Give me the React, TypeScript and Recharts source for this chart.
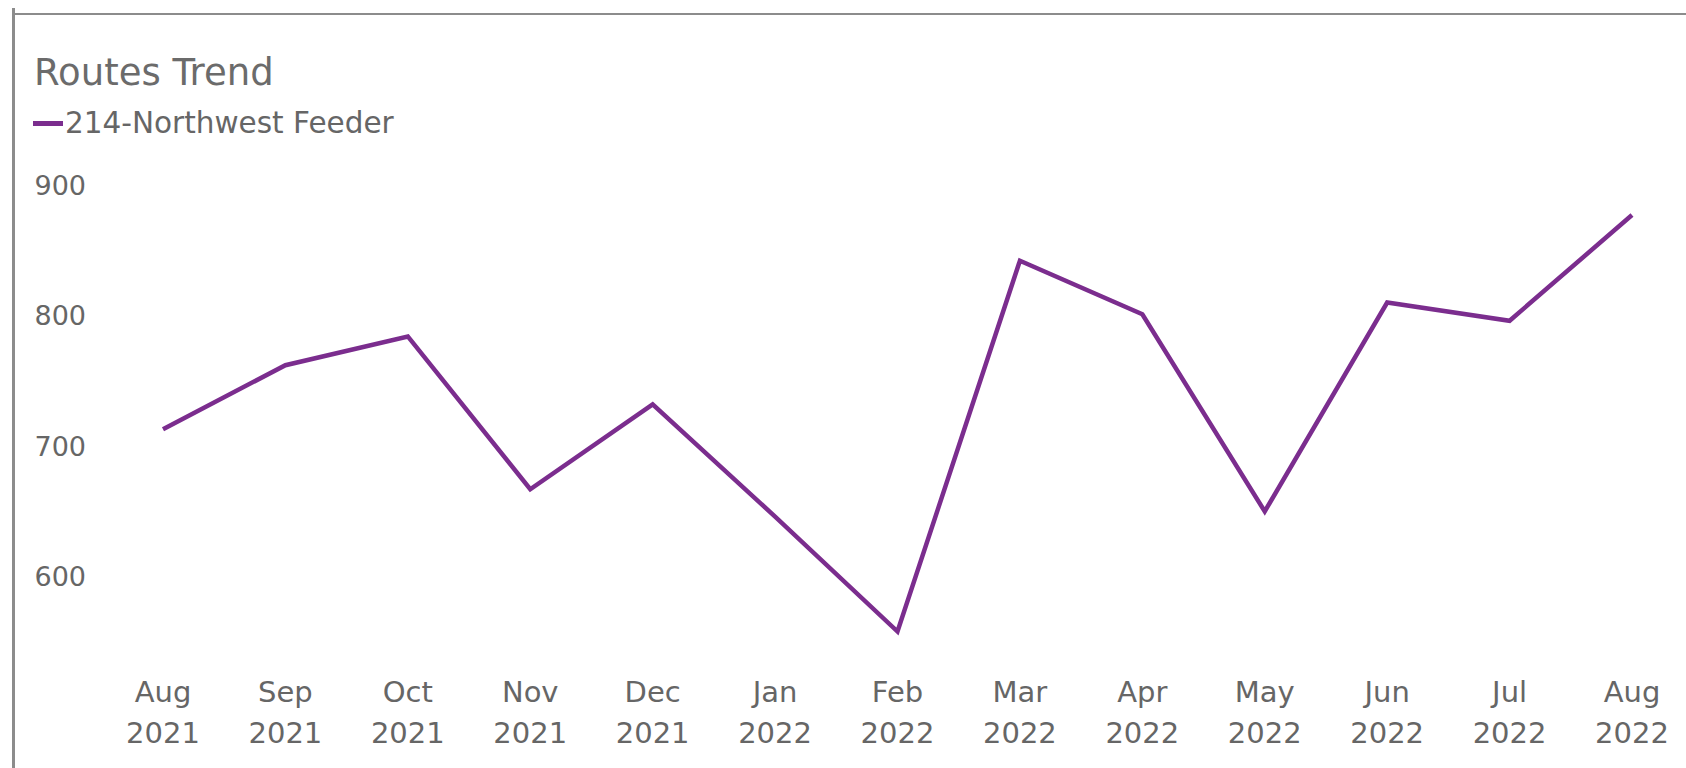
import React from 'react';
import { LineChart, Line, XAxis, YAxis } from 'recharts';

const months = ['Aug', 'Sep', 'Oct', 'Nov', 'Dec', 'Jan', 'Feb', 'Mar', 'Apr', 'May', 'Jun', 'Jul', 'Aug'];
const years = ['2021', '2021', '2021', '2021', '2021', '2022', '2022', '2022', '2022', '2022', '2022', '2022', '2022'];
const routeValues = [713, 762, 784, 667, 732, 646, 558, 842, 801, 650, 810, 796, 877];
const yTicks = [600, 700, 800, 900];
const seriesName = '214-Northwest Feeder';
const chartTitle = 'Routes Trend';

const data = months.map((m, i) => ({ key: `${m} ${years[i]}`, value: routeValues[i] }));

const FONT = '"DejaVu Sans", Verdana, sans-serif';
const TEXT = '#666666';
const PURPLE = '#7B2D8E';

const XTick = (props: any) => {
  const { x, y, payload } = props;
  const [m, yr] = String(payload.value).split(' ');
  return (
    <text x={x} y={y} textAnchor="middle" fill={TEXT} fontSize={29} fontFamily={FONT}>
      <tspan x={x} dy={17}>{m}</tspan>
      <tspan x={x} dy={41}>{yr}</tspan>
    </text>
  );
};

export default function App() {
  return (
    <div style={{ position: 'absolute', left: 0, top: 0, width: 1686, height: 768, background: '#fff', overflow: 'hidden' }}>
      <div style={{ position: 'absolute', left: 13, top: 13, right: 0, height: 2, background: '#8c8c8c' }} />
      <div style={{ position: 'absolute', left: 12, top: 8, width: 3, bottom: 0, background: '#8c8c8c' }} />
      <div style={{ position: 'absolute', left: 34, top: 54, fontFamily: FONT, fontSize: 37, lineHeight: '37px', color: '#6b6b6b', whiteSpace: 'nowrap' }}>
        {chartTitle}
      </div>
      <div style={{ position: 'absolute', left: 33, top: 108, height: 30, display: 'flex', alignItems: 'center', fontFamily: FONT, fontSize: 29.5, color: TEXT, whiteSpace: 'nowrap' }}>
        <span style={{ display: 'inline-block', width: 30, height: 5, background: PURPLE, marginRight: 2 }} />
        <span>{seriesName}</span>
      </div>
      <div style={{ position: 'absolute', left: 0, top: 0 }}>
        <LineChart width={1686} height={768} data={data} margin={{ top: 185, right: 54, bottom: 26, left: 33 }}>
          <XAxis
            dataKey="key"
            interval={0}
            axisLine={false}
            tickLine={false}
            tickSize={0}
            tickMargin={43}
            height={100}
            tick={<XTick />}
          />
          <YAxis
            domain={[550, 900]}
            ticks={yTicks}
            allowDataOverflow
            axisLine={false}
            tickLine={false}
            tickSize={0}
            tickMargin={77}
            width={130}
            tick={{ fill: TEXT, fontSize: 27, fontFamily: FONT }}
          />
          <Line
            type="linear"
            dataKey="value"
            name={seriesName}
            stroke={PURPLE}
            strokeWidth={4.5}
            dot={false}
            activeDot={false}
            isAnimationActive={false}
          />
        </LineChart>
      </div>
    </div>
  );
}
